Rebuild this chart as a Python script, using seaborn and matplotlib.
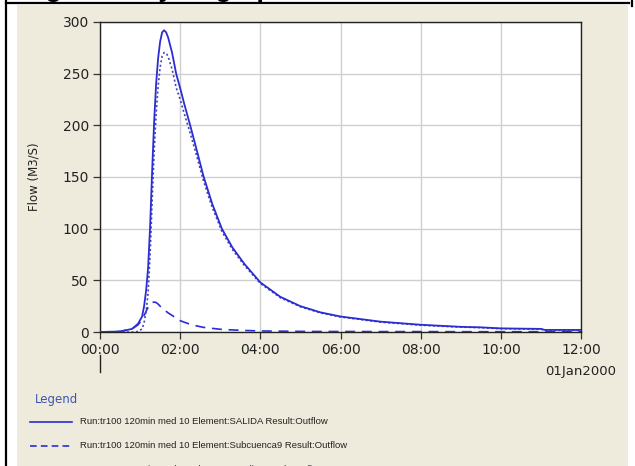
import matplotlib
matplotlib.use("Agg")
import matplotlib.pyplot as plt
from matplotlib.lines import Line2D
from matplotlib.patches import Rectangle
import seaborn as sns
import pandas as pd

# ---- data (hours since 00:00, 01Jan2000) ----
hours = [0, 0.5, 0.8, 0.95, 1.05, 1.1, 1.15, 1.2, 1.25, 1.3, 1.35, 1.4, 1.45, 1.5,
         1.55, 1.6, 1.65, 1.7, 1.8, 1.9, 2.0, 2.1, 2.25, 2.4, 2.58, 2.8, 3.04,
         3.3, 3.6, 4.0, 4.5, 5.0, 5.5, 6.0, 7.0, 8.0, 9.0, 9.5, 10.0, 11.0, 11.1, 12.0]
salida = [0, 0.5, 3, 8, 15, 25, 40, 62, 102, 155, 203, 240, 265, 281,
          290, 292, 290, 285, 270, 250, 236, 221, 200, 178, 151, 124, 100,
          82, 66, 48, 34, 25, 19, 15, 10, 7, 5, 4.5, 3.5, 3, 2, 2]
subcuenca9 = [0, 0.5, 3, 7, 12, 16, 20, 24, 27, 28.5, 29, 28.5, 27, 25,
              23, 21.5, 20, 18.5, 16, 13.5, 11, 9.5, 7.5, 6, 4.5, 3.5, 2.5,
              2, 1.5, 1, 0.8, 0.6, 0.5, 0.5, 0.4, 0.4, 0.3, 0.3, 0.3, 0.3, 0.3, 0.3]
reach = [0, 0, 0, 0.5, 3, 9, 20, 38, 75, 126, 174, 211, 238, 256,
         267, 270.5, 270, 266.5, 254, 236.5, 225, 211.5, 192.5, 172, 146.5, 120.5, 97.5,
         80, 64.5, 47, 33.2, 24.4, 18.5, 14.5, 9.6, 6.6, 4.7, 4.2, 3.2, 2.7, 1.7, 1.7]

xticks = [0, 2, 4, 6, 8, 10, 12]
xticklabels = ["00:00", "02:00", "04:00", "06:00", "08:00", "10:00", "12:00"]
yticks = [0, 50, 100, 150, 200, 250, 300]

legend_labels = [
    "Run:tr100 120min med 10 Element:SALIDA Result:Outflow",
    "Run:tr100 120min med 10 Element:Subcuenca9 Result:Outflow",
    "Run:tr100 120min med 10 Element:casali9 Result:Outflow",
]

df = pd.DataFrame({"hours": hours, "salida": salida,
                   "sub": subcuenca9, "reach": reach})

W, H = 635, 466
fig = plt.figure(figsize=(W / 100, H / 100), dpi=100)
fig.patch.set_facecolor("white")

def fx(px):
    return px / W

def fy(py):
    return 1 - py / H

# beige panel
bg = Rectangle((fx(17), 0), fx(628) - fx(17), fy(5), transform=fig.transFigure,
               facecolor="#EEEBDC", edgecolor="none", zorder=-10)
fig.add_artist(bg)
# document borders
fig.add_artist(Line2D([fx(6), fx(6)], [0, 1], color="black", lw=1.6))
fig.add_artist(Line2D([fx(6), fx(629)], [fy(3), fy(3)], color="black", lw=1.6))
fig.add_artist(Line2D([fx(632), fx(632)], [fy(0), fy(6)], color="black", lw=1.6))

# cut-off title
fig.text(fx(22), fy(-2.5), "Figure 9. Hydrograph", fontsize=19, fontweight="bold",
         family="Liberation Sans", va="baseline", ha="left", color="black")

ax = fig.add_axes([fx(100), fy(332), fx(581) - fx(100), fy(22) - fy(332)])
ax.set_zorder(1)
ax.set_facecolor("white")

blue = "#2c2cd4"
sns.lineplot(data=df, x="hours", y="salida", ax=ax, color=blue, lw=1.3, zorder=4)
sns.lineplot(data=df, x="hours", y="sub", ax=ax, color=blue, lw=1.2,
             linestyle=(0, (6, 4)), zorder=3)
sns.lineplot(data=df, x="hours", y="reach", ax=ax, color="#4040b8", lw=1.2,
             linestyle=(0, (1.2, 1.5)), zorder=3)

ax.set_xlim(0, 12)
ax.set_ylim(0, 300)
ax.set_xticks(xticks)
ax.set_xticklabels(xticklabels)
ax.set_yticks(yticks)
ax.grid(True, color="#cfcfcf", lw=1.0)
ax.set_axisbelow(True)
for s in ax.spines.values():
    s.set_color("#222222")
    s.set_linewidth(1.0)
ax.tick_params(axis="both", direction="out", length=5, width=0.9, color="#333333",
               labelsize=10, labelcolor="#222222", pad=3)
ax.set_xlabel("")
ax.set_ylabel("Flow (M3/S)", fontsize=8.5, color="#222222", labelpad=16)

# date below last tick and marker below first tick
fig.text(fx(581), fy(371), "01Jan2000", fontsize=9.5, color="#222222",
         ha="center", va="center")
fig.add_artist(Line2D([fx(100), fx(100)], [fy(355), fy(372)], color="#222222", lw=1.0))

# legend block
fig.text(fx(35), fy(400), "Legend", fontsize=8.5, color="#3a55b0", ha="left", va="center")
styles = [("-", blue), ((0, (4, 2.5)), blue), ((0, (1.2, 1.6)), "#8888cc")]
ys = [422, 446, 469]
for (ls, c), yy, lab in zip(styles, ys, legend_labels):
    fig.add_artist(Line2D([fx(30), fx(72)], [fy(yy), fy(yy)], color=c, lw=1.2, linestyle=ls))
    fig.text(fx(80), fy(yy), lab, fontsize=6.8, family="Liberation Sans",
             color="#222222", ha="left", va="center")

fig.savefig("out.png", dpi=100, facecolor=fig.get_facecolor())
